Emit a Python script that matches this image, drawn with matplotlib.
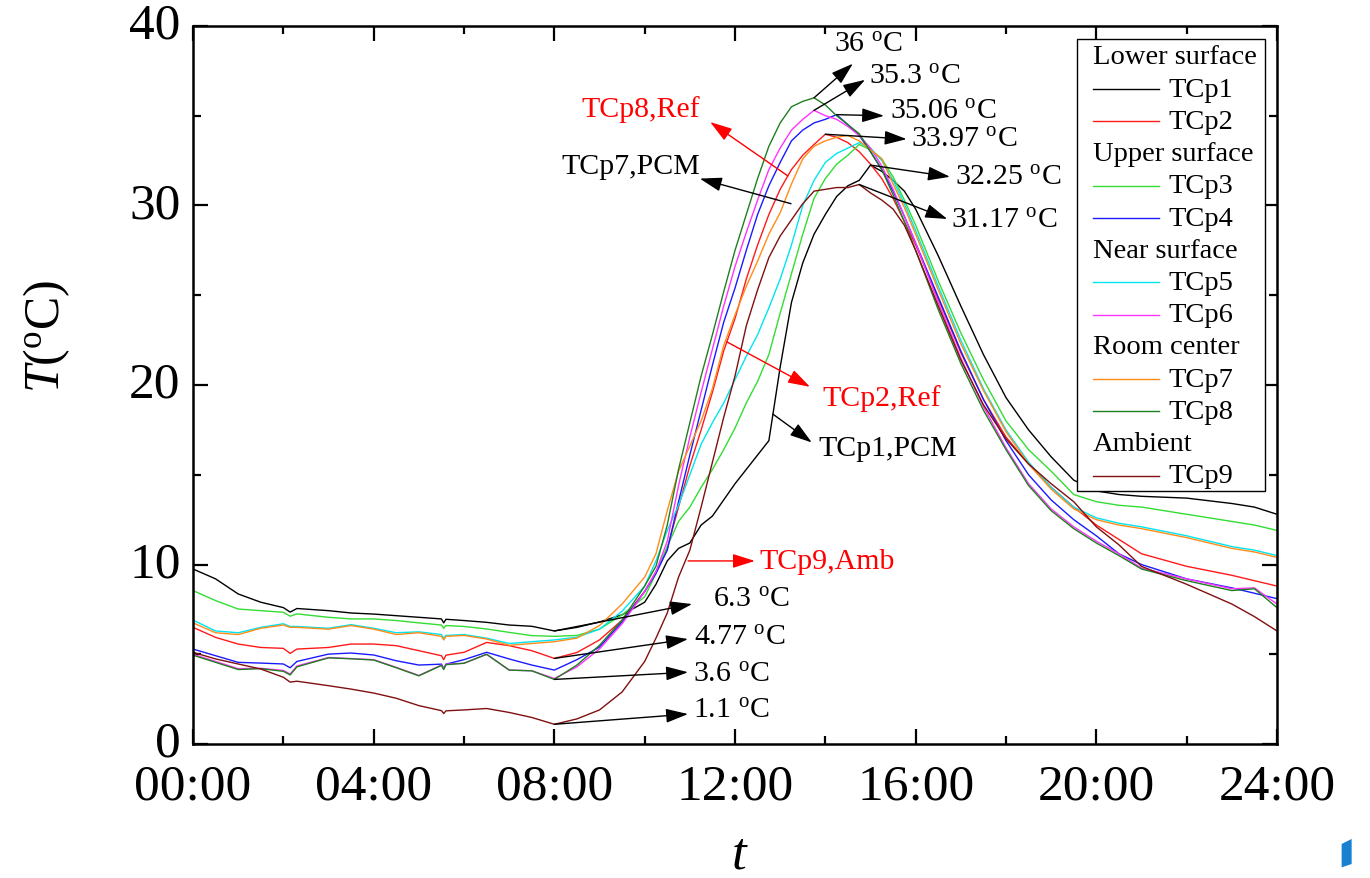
#!/usr/bin/env python3
"""Daily temperature curves of the nine thermocouples, PCM room vs. reference."""

import matplotlib
matplotlib.use("Agg")
import matplotlib.pyplot as plt
import matplotlib.transforms as mtransforms
import numpy as np
from matplotlib.lines import Line2D
from matplotlib.patches import Polygon, Rectangle

plt.rcParams["font.family"] = ["Liberation Serif", "DejaVu Serif"]
plt.rcParams["mathtext.fontset"] = "custom"
plt.rcParams["mathtext.rm"] = "Liberation Serif"
plt.rcParams["mathtext.it"] = "Liberation Serif:italic"

# time of day in hours
hours = [0, 0.5, 1, 1.5, 2, 2.15, 2.3, 3, 3.5, 4, 4.5, 5, 5.5, 5.55, 5.6,
         6, 6.5, 7, 7.5, 8, 8.5, 9, 9.5, 10, 10.25, 10.5, 10.75, 11, 11.25,
         11.5, 11.75, 12, 12.25, 12.5, 12.75, 13, 13.25, 13.5, 13.75, 14,
         14.25, 14.5, 14.75, 15, 15.25, 15.5, 15.75, 16, 16.5, 17, 17.5, 18,
         18.5, 19, 19.5, 20, 20.5, 21, 22, 23, 23.5, 24]

# temperatures, degC
tcp1 = [9.75, 9.2, 8.36, 7.9, 7.6, 7.35, 7.55, 7.43, 7.3, 7.24, 7.15, 7.06,
        6.97, 6.75, 6.95, 6.88, 6.78, 6.63, 6.56, 6.3, 6.5, 6.8, 7.2, 7.9,
        8.9, 10.2, 10.9, 11.2, 12.2, 12.7, 13.6, 14.5, 15.3, 16.1, 16.9, 21.0,
        24.6, 26.8, 28.4, 29.5, 30.5, 31.1, 31.4, 32.25, 31.9, 31.4, 30.8,
        29.8, 27.2, 24.4, 21.7, 19.3, 17.5, 16.0, 14.7, 14.1, 13.9, 13.8,
        13.7, 13.4, 13.2, 12.8]
tcp2 = [6.5, 5.94, 5.57, 5.38, 5.33, 5.05, 5.29, 5.38, 5.57, 5.57, 5.48, 5.2,
        4.92, 4.7, 4.95, 5.11, 5.66, 5.48, 5.2, 4.77, 5.1, 5.8, 6.9, 8.5,
        9.6, 10.9, 13.2, 15.5, 17.5, 19.6, 21.9, 23.7, 25.9, 27.8, 29.5, 30.9,
        32.0, 32.8, 33.4, 33.97, 33.8, 33.5, 33.0, 32.3, 31.5, 30.4, 29.1,
        27.8, 24.8, 21.8, 19.2, 17.1, 15.6, 14.3, 13.2, 12.2, 11.4, 10.6,
        9.9, 9.4, 9.1, 8.8]
tcp3 = [8.55, 7.99, 7.52, 7.43, 7.34, 7.12, 7.25, 7.06, 6.97, 6.97, 6.88,
        6.75, 6.63, 6.45, 6.6, 6.55, 6.41, 6.22, 6.04, 6.0, 6.05, 6.4, 7.2,
        8.2, 9.5, 11.0, 12.4, 13.2, 14.3, 15.3, 16.4, 17.6, 19.0, 20.2, 21.7,
        24.0, 26.2, 28.4, 30.4, 31.5, 32.3, 32.8, 33.4, 33.1, 32.6, 31.6,
        30.3, 28.9, 25.8, 22.9, 20.3, 18.0, 16.4, 15.2, 13.9, 13.5, 13.3,
        13.2, 12.8, 12.4, 12.2, 11.9]
tcp4 = [5.29, 4.92, 4.55, 4.51, 4.46, 4.25, 4.6, 5.01, 5.07, 4.96, 4.64, 4.4,
        4.45, 4.2, 4.45, 4.7, 5.11, 4.74, 4.4, 4.12, 4.7, 5.4, 6.8, 8.5,
        9.5, 10.8, 13.5, 16.1, 18.6, 21.1, 23.5, 25.4, 27.5, 29.5, 31.1, 32.4,
        33.6, 34.2, 34.6, 34.8, 35.06, 34.5, 33.9, 33.0, 32.0, 30.8, 29.4,
        27.9, 24.9, 21.9, 19.2, 16.9, 15.0, 13.6, 12.5, 11.6, 10.6, 10.0,
        9.2, 8.7, 8.4, 8.1]
tcp5 = [6.9, 6.3, 6.2, 6.5, 6.7, 6.55, 6.55, 6.45, 6.65, 6.45, 6.2, 6.25,
        6.1, 5.9, 6.05, 6.1, 5.9, 5.6, 5.7, 5.8, 5.95, 6.4, 7.4, 8.8,
        10.2, 11.9, 13.3, 15.0, 16.7, 17.9, 19.0, 20.3, 21.6, 22.8, 24.3, 25.9,
        27.8, 30.0, 31.4, 32.4, 32.9, 33.2, 33.5, 33.2, 32.5, 31.4, 30.1,
        28.6, 25.5, 22.5, 19.8, 17.5, 15.7, 14.3, 13.2, 12.6, 12.3, 12.1,
        11.6, 11.0, 10.8, 10.5]
tcp6 = [5.0, 4.6, 4.2, 4.22, 4.1, 3.9, 4.35, 4.82, 4.76, 4.7, 4.27, 3.82,
        4.4, 4.2, 4.45, 4.5, 5.0, 4.12, 4.08, 3.65, 4.3, 5.3, 6.7, 8.5,
        9.6, 11.3, 14.4, 17.1, 19.6, 22.0, 24.4, 26.6, 28.5, 30.3, 32.0, 33.2,
        34.2, 34.8, 35.3, 35.0, 34.8, 34.4, 33.9, 33.2, 32.2, 30.9, 29.4,
        27.9, 24.6, 21.5, 18.8, 16.5, 14.5, 13.1, 12.1, 11.3, 10.6, 9.8,
        9.2, 8.65, 8.7, 7.8]
tcp7 = [6.75, 6.2, 6.1, 6.45, 6.63, 6.5, 6.5, 6.4, 6.6, 6.4, 6.1, 6.2,
        6.0, 5.8, 6.0, 6.05, 5.85, 5.5, 5.6, 5.7, 5.9, 6.6, 7.8, 9.3,
        10.6, 13.0, 15.2, 16.6, 18.0, 19.8, 22.2, 23.9, 25.5, 26.9, 28.4, 29.6,
        31.2, 32.6, 33.3, 33.6, 33.8, 33.9, 33.6, 33.1, 32.6, 31.2, 29.9,
        28.4, 25.3, 22.3, 19.7, 17.4, 15.6, 14.2, 13.1, 12.5, 12.2, 12.0,
        11.5, 10.9, 10.7, 10.4]
tcp8 = [4.95, 4.55, 4.15, 4.2, 4.05, 3.85, 4.3, 4.8, 4.75, 4.68, 4.25, 3.8,
        4.38, 4.15, 4.42, 4.5, 5.0, 4.12, 4.08, 3.6, 4.4, 5.5, 6.9, 8.8,
        9.9, 12.2, 15.3, 17.9, 20.5, 22.8, 25.2, 27.5, 29.5, 31.5, 33.3, 34.6,
        35.5, 35.8, 36.0, 35.6, 35.0, 34.5, 34.0, 33.0, 32.0, 30.6, 29.1,
        27.5, 24.2, 21.2, 18.6, 16.4, 14.4, 13.0, 12.0, 11.2, 10.5, 9.75,
        9.1, 8.55, 8.65, 7.6]
tcp9 = [5.11, 4.74, 4.46, 4.18, 3.72, 3.45, 3.5, 3.25, 3.06, 2.84, 2.55, 2.14,
        1.86, 1.7, 1.85, 1.9, 1.98, 1.76, 1.48, 1.1, 1.4, 1.9, 2.9, 4.6,
        5.9, 7.3, 9.3, 10.8, 13.2, 15.7, 18.2, 20.5, 23.3, 25.3, 27.1, 28.3,
        29.2, 30.1, 30.8, 30.9, 31.0, 31.0, 31.17, 30.7, 30.3, 29.8, 28.9,
        27.5, 24.4, 21.4, 18.9, 17.0, 15.6, 14.5, 13.5, 12.1, 11.1, 9.9,
        8.9, 7.8, 7.1, 6.3]

names = ["TCp1", "TCp2", "TCp3", "TCp4", "TCp5", "TCp6", "TCp7", "TCp8", "TCp9"]
colors = ["#000000", "#ff1a1a", "#33dd33", "#1a1aff", "#00e5f0",
          "#ff33ff", "#ff8c1a", "#1f7f1f", "#801010"]
groups = ["Lower surface", "Upper surface", "Near surface", "Room center",
          "Ambient"]
group_members = [["TCp1", "TCp2"], ["TCp3", "TCp4"], ["TCp5", "TCp6"],
                 ["TCp7", "TCp8"], ["TCp9"]]
xtick_labels = ["00:00", "04:00", "08:00", "12:00", "16:00", "20:00", "24:00"]

data = dict(zip(names, [tcp1, tcp2, tcp3, tcp4, tcp5, tcp6, tcp7, tcp8, tcp9]))
color_of = dict(zip(names, colors))
t = np.array(hours)

fig = plt.figure(figsize=(13.7, 8.79), dpi=100)
ax = fig.add_axes([0.1409, 0.1524, 0.7912, 0.8169])

for name in names:
    ax.plot(t, data[name], color=color_of[name], lw=1.0)

ax.set_xlim(0, 24)
ax.set_ylim(0, 40)
ax.set_xticks(range(0, 25, 4))
ax.set_xticklabels(xtick_labels)
ax.set_xticks(range(0, 25, 2), minor=True)
ax.set_yticks(range(0, 41, 10))
ax.set_yticks(range(0, 41, 5), minor=True)
ax.tick_params(which="both", direction="in", top=True, right=True,
               width=1.6, labelsize=37)
ax.tick_params(which="major", length=11)
ax.tick_params(which="minor", length=5.5)
ax.tick_params(axis="x", which="major", pad=14)
ax.tick_params(axis="y", which="major", pad=9)
for sp in ax.spines.values():
    sp.set_linewidth(1.8)

# lift the y tick labels a little so the "0" clears "00:00"
lift = mtransforms.ScaledTranslation(0, 6 / 100, fig.dpi_scale_trans)
for lbl in ax.get_yticklabels():
    lbl.set_transform(lbl.get_transform() + lift)

fig.text(0.034, 0.617, r"$T$($^{\rm o}$C)", rotation=90, ha="center",
         va="center", fontsize=36)
fig.text(0.540, 0.027, r"$t$", ha="center", va="center", fontsize=38)


def arrow(tail, head, color="black"):
    ax.annotate("", xy=head, xytext=tail,
                arrowprops=dict(arrowstyle="-|>,head_length=0.85,head_width=0.27",
                                color=color, lw=1.0, mutation_scale=16,
                                shrinkA=0, shrinkB=0))


def peak(name):
    i = int(np.argmax(data[name]))
    return t[i], data[name][i]


def at(name, h):
    return h, float(np.interp(h, t, data[name]))


deg = r" $^{\rm o}$C"
fs = 21.5

# peak values
for name, head, txt in [("TCp8", (14.61, 37.9), (14.2, 39.0)),
                        ("TCp6", (14.88, 37.0), (14.97, 37.2)),
                        ("TCp4", (15.30, 35.0), (15.43, 35.3)),
                        ("TCp2", (15.80, 33.7), (15.90, 33.7)),
                        ("TCp1", (16.76, 31.6), (16.87, 31.6)),
                        ("TCp9", (16.70, 29.25), (16.78, 29.2))]:
    pt = peak(name)
    arrow(pt, head)
    val = pt[1]
    label = f"{val:g}" if name != "TCp8" else f"{val:.0f}"
    ax.text(txt[0], txt[1], label + deg, fontsize=fs, va="center", ha="left")

# night minima at 08:00
for name, head, txt in [("TCp1", (11.05, 7.8), (11.51, 8.1)),
                        ("TCp2", (10.96, 5.85), (11.10, 5.96)),
                        ("TCp8", (10.96, 4.0), (11.07, 3.9)),
                        ("TCp9", (10.96, 1.67), (11.07, 1.9))]:
    pt = at(name, 8.0)
    arrow(pt, head)
    ax.text(txt[0], txt[1], f"{pt[1]:g}" + deg, fontsize=fs, va="center",
            ha="left")

# curve names
arrow(at("TCp2", 13.17), (11.45, 34.65), "red")
ax.text(11.22, 35.4, "TCp8,Ref", color="red", fontsize=fs, ha="right",
        va="center")
arrow((13.24, 30.1), (11.22, 31.5))
ax.text(11.22, 32.2, "TCp7,PCM", fontsize=fs, ha="right", va="center")
arrow(at("TCp2", 11.82), (13.66, 19.9), "red")
ax.text(13.93, 19.3, "TCp2,Ref", color="red", fontsize=fs, ha="left",
        va="center")
arrow(at("TCp1", 12.84), (13.70, 16.8))
ax.text(13.84, 16.5, "TCp1,PCM", fontsize=fs, ha="left", va="center")
arrow((10.96, 10.2), (12.44, 10.2), "red")
ax.text(12.55, 10.2, "TCp9,Amb", color="red", fontsize=fs, ha="left",
        va="center")

# grouped legend box
box_l, box_r, box_b, box_t = 0.8155, 0.9890, 0.352, 0.9819
ax.add_patch(Rectangle((box_l, box_b), box_r - box_l, box_t - box_b,
                       transform=ax.transAxes, facecolor="white",
                       edgecolor="black", lw=1.0, zorder=5))
row_y0, row_step = (745 - 58) / 718, 32.2 / 718
line_x0, line_x1, text_x = 0.830, 0.891, 0.8995
row = 0
for grp, members in zip(groups, group_members):
    y = row_y0 - row * row_step
    ax.text(line_x0, y, grp, transform=ax.transAxes, fontsize=20.5,
            va="center", ha="left", zorder=6)
    row += 1
    for name in members:
        y = row_y0 - row * row_step
        ax.add_line(Line2D([line_x0, line_x1], [y, y], transform=ax.transAxes,
                           color=color_of[name], lw=1.0, zorder=6))
        ax.text(text_x, y, name, transform=ax.transAxes, fontsize=20.5,
                va="center", ha="left", zorder=6)
        row += 1

# small blue mark in the corner
fig.patches.append(Polygon([(0.9793, 0.0387), (0.9866, 0.0444),
                            (0.9866, 0.0159), (0.9793, 0.0121)],
                           closed=True, transform=fig.transFigure,
                           facecolor="#1a80d0", edgecolor="none"))

fig.savefig("out.png", dpi=100)
